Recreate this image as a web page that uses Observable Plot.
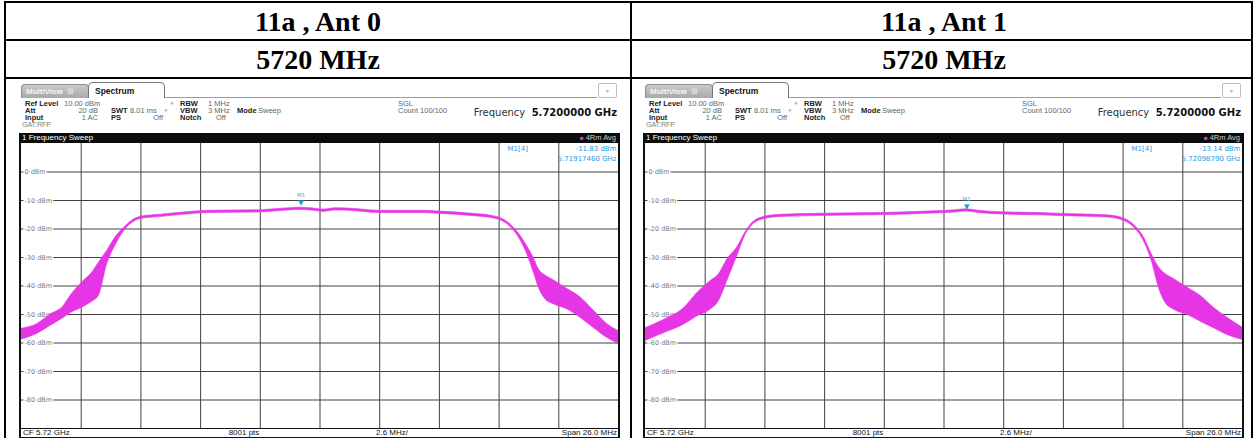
<!DOCTYPE html>
<html><head><meta charset="utf-8">
<script src="https://cdn.jsdelivr.net/npm/d3@7"></script>
<script src="https://cdn.jsdelivr.net/npm/@observablehq/plot@0.6"></script>
<style>
html,body{margin:0;padding:0;background:#fff;}
#page{position:relative;width:1259px;height:438px;overflow:hidden;background:#fff;}
.a{position:absolute;white-space:nowrap;line-height:1;font-family:"Liberation Sans",Arial,sans-serif;font-size:7.5px;color:#666;box-sizing:border-box;}
.a b{color:#222;font-weight:bold;}
.title{font-family:"Liberation Serif","Times New Roman",serif;font-weight:bold;font-size:28px;text-align:center;color:#000;}
.blk{background:#000;}
</style></head>
<body><div id="page"></div>
<script>
// ---------- data ----------
const panelTitles = ["11a , Ant 0", "11a , Ant 1"];
const channelTitles = ["5720 MHz", "5720 MHz"];
// frequency offset from centre 5.72 GHz (MHz), upper and lower envelope of trace (dBm)
const freqAnt0 = [-13.0,-12.32,-11.74,-11.16,-10.87,-10.36,-9.92,-9.63,-9.27,-8.91,-8.47,-8.11,-7.75,-6.95,-5.94,-4.86,-2.59,-1.72,-0.85,-0.28,0.15,0.67,1.2,2.63,4.38,5.25,6.55,7.57,7.93,8.3,8.66,9.02,9.31,9.53,9.82,10.18,10.76,11.35,11.92,12.5,13.0];
const hiAnt0   = [-55.0,-53.4,-50.0,-47.0,-43.5,-38.8,-35.3,-31.8,-27.7,-23.0,-19.1,-16.7,-15.6,-15.0,-14.2,-13.6,-13.4,-12.9,-12.5,-12.8,-13.2,-12.7,-12.8,-13.6,-13.6,-13.9,-14.6,-15.5,-16.4,-18.4,-21.6,-26.0,-30.2,-34.2,-36.3,-38.0,-41.0,-44.0,-48.6,-53.3,-55.8];
const loAnt0   = [-58.8,-56.8,-54.0,-51.2,-49.6,-47.6,-45.5,-43.5,-32.4,-25.9,-20.1,-17.5,-16.4,-15.8,-15.0,-14.4,-14.2,-13.7,-13.3,-13.6,-14.0,-13.5,-13.6,-14.4,-14.4,-14.7,-15.4,-16.3,-17.2,-19.3,-23.0,-28.8,-35.3,-40.6,-44.7,-46.4,-48.2,-51.2,-54.7,-58.2,-60.3];
const freqAnt1 = [-13.0,-12.2,-11.33,-10.75,-10.17,-9.81,-9.44,-9.0,-8.64,-8.28,-7.85,-7.12,-4.07,-1.9,-0.5,0.5,0.99,1.5,2.5,4.2,5.22,7.11,7.76,8.27,8.7,9.07,9.36,9.65,10.01,10.59,11.17,11.75,12.34,13.0];
const hiAnt1   = [-54.8,-51.9,-47.8,-42.5,-38.3,-36.0,-30.7,-26.4,-21.1,-17.4,-15.8,-15.0,-14.5,-14.2,-13.8,-13.4,-13.1,-13.6,-14.1,-14.4,-14.7,-15.2,-16.1,-18.5,-22.8,-29.2,-33.4,-35.8,-37.5,-40.5,-43.4,-47.6,-51.1,-54.6];
const loAnt1   = [-59.3,-56.6,-53.6,-50.7,-48.3,-45.4,-38.3,-29.5,-22.1,-18.2,-16.6,-15.8,-15.3,-15.0,-14.6,-14.2,-13.9,-14.4,-14.9,-15.2,-15.5,-16.0,-16.9,-19.4,-24.2,-31.9,-40.7,-46.0,-48.3,-50.1,-52.5,-54.8,-57.2,-58.9];
const markerFreq = [-0.8254, 0.9879];          // MHz offset of M1
const markerLevel = [-11.83, -13.14];          // dBm
const markerFreqText = ["5.71917460 GHz", "5.72098790 GHz"];
const levelTicks = [0, -10, -20, -30, -40, -50, -60, -70, -80];
const spanMHz = 26, divisions = 10;

// ---------- page frame ----------
const page = document.getElementById("page");
function div(cls, html, css) {
  const d = document.createElement("div");
  d.className = "a " + cls;
  d.innerHTML = html;
  let s = "";
  for (const k in css) s += k + ":" + (typeof css[k] === "number" ? css[k] + "px" : css[k]) + ";";
  d.style.cssText = s;
  page.appendChild(d);
  return d;
}
// table lines
div("blk", "", {left: 4, top: 1, width: 1249, height: 2});
div("blk", "", {left: 4, top: 1, width: 2, height: 440});
div("blk", "", {left: 630, top: 1, width: 2, height: 440});
div("blk", "", {left: 1251, top: 1, width: 2, height: 440});
div("blk", "", {left: 4, top: 39, width: 1249, height: 2});
div("blk", "", {left: 4, top: 77, width: 1249, height: 2});

const xGrid = d3.range(1, divisions).map(k => -spanMHz / 2 + k * spanMHz / divisions);

function panel(i, freq, hi, lo) {
  const dx = i * 624;
  const colL = i === 0 ? 6 : 632, colW = 624;
  div("title", panelTitles[i], {left: colL, top: 8, width: colW});
  div("title", channelTitles[i], {left: colL, top: 46, width: colW});

  // tabs
  div("", '<b style="color:#f4f4f4">MultiView</b>&nbsp; <span style="color:#eee">&#8862;</span>',
      {left: 21 + dx, top: 84, width: 68, height: 14, "font-size": "8px", background: "linear-gradient(#c9c9c9,#a9a9a9)", border: "1px solid #8f8f8f", "border-bottom": "none", "border-radius": "4px 4px 0 0", "padding-left": "4px", "padding-top": "3px"});
  div("", '<b style="color:#111">Spectrum</b>',
      {left: 88 + dx, top: 82, width: 77, height: 16, "font-size": "8.5px", background: "#fff", border: "1px solid #777", "border-bottom": "none", "border-radius": "5px 5px 0 0", "padding-left": "6px", "padding-top": "4px", "z-index": 2});
  div("", "", {left: 165 + dx, top: 97, width: 432, height: 1, background: "#999"});
  div("", "&#9660;",
      {left: 598 + dx, top: 83, width: 19, height: 15, "font-size": "5px", color: "#aaa", border: "1px solid #bdbdbd", "border-radius": "2px", "text-align": "center", "padding-top": "5px"});

  // setup info
  const r1 = 100, r2 = 107, r3 = 114, r4 = 121;
  div("", "<b>Ref Level</b>", {left: 25 + dx, top: r1});
  div("", "10.00 dBm", {left: 64 + dx, top: r1});
  div("", '<span style="color:#b5b5b5">&#9679;</span>', {left: 170 + dx, top: r1, "font-size": "6px"});
  div("", "<b>RBW</b>", {left: 180 + dx, top: r1});
  div("", "1 MHz", {left: 208 + dx, top: r1});
  div("", "SGL", {left: 398 + dx, top: r1});
  div("", "<b>Att</b>", {left: 25 + dx, top: r2});
  div("", "20 dB", {left: 58 + dx, top: r2, width: 40, "text-align": "right"});
  div("", "<b>SWT</b>", {left: 111 + dx, top: r2});
  div("", "8.01 ms", {left: 130 + dx, top: r2});
  div("", '<span style="color:#b5b5b5">&#9679;</span>', {left: 164 + dx, top: r2, "font-size": "6px"});
  div("", "<b>VBW</b>", {left: 180 + dx, top: r2});
  div("", "3 MHz", {left: 208 + dx, top: r2});
  div("", "<b>Mode</b>", {left: 237 + dx, top: r2});
  div("", "Sweep", {left: 258 + dx, top: r2});
  div("", "Count 100/100", {left: 398 + dx, top: r2});
  div("", "<b>Input</b>", {left: 25 + dx, top: r3});
  div("", "1 AC", {left: 58 + dx, top: r3, width: 40, "text-align": "right"});
  div("", "<b>PS</b>", {left: 111 + dx, top: r3});
  div("", "Off", {left: 133 + dx, top: r3, width: 30, "text-align": "right"});
  div("", "<b>Notch</b>", {left: 180 + dx, top: r3});
  div("", "Off", {left: 216 + dx, top: r3});
  div("", "GAT:RFP", {left: 22 + dx, top: r4, color: "#7a7a7a", "font-size": "7px"});
  div("", '<span style="color:#333">Frequency</span>&nbsp; <b style="color:#111">5.7200000 GHz</b>',
      {left: 420 + dx, top: 108, width: 197, "text-align": "right", "font-size": "10px", "font-family": "DejaVu Sans,sans-serif"});

  // frame + sweep bar
  div("", "", {left: 19 + dx, top: 133, width: 601, height: 306, border: "2px solid #111"});
  div("", "1 Frequency Sweep",
      {left: 19 + dx, top: 133, width: 601, height: 10, background: "#0c0c0c", color: "#fff", "font-size": "8px", "line-height": "10px", "padding-left": "3px", "z-index": 3});
  div("", '<span style="color:#e535e5;font-size:6px">&#9632;</span> 4Rm Avg',
      {left: 530 + dx, top: 133, width: 86, height: 10, "line-height": "10px", "text-align": "right", color: "#cfcfcf", "font-size": "7.5px", "z-index": 4});

  // bottom bar
  const bb = {top: 428, height: 9, "line-height": "9px", "font-size": "8px", color: "#111"};
  div("", "CF 5.72 GHz", {...bb, left: 23 + dx});
  div("", "8001 pts", {...bb, left: 204 + dx, width: 80, "text-align": "center"});
  div("", "2.6 MHz/", {...bb, left: 376 + dx});
  div("", "Span 26.0 MHz", {...bb, left: 517 + dx, width: 100, "text-align": "right"});

  // trace plot
  const rows = freq.map((f, k) => ({f, hi: hi[k], lo: lo[k]}));
  const mk = [{f: markerFreq[i], v: markerLevel[i]}];
  const trace = "#e535e5", blue = "#1e9be0";
  const chart = Plot.plot({
    width: 597, height: 286,
    marginTop: 0, marginBottom: 1, marginLeft: 0, marginRight: 0,
    x: {domain: [-spanMHz / 2, spanMHz / 2], axis: null},
    y: {domain: [-90, 10], axis: null},
    style: {fontFamily: "DejaVu Sans, sans-serif", background: "transparent", overflow: "hidden"},
    marks: [
      Plot.ruleY(levelTicks, {stroke: "#404040", strokeWidth: 1}),
      Plot.ruleX(xGrid, {stroke: "#404040", strokeWidth: 1}),
      Plot.ruleY([-90], {stroke: "#111", strokeWidth: 1}),
      Plot.text(levelTicks, {x: () => -spanMHz / 2, y: d => d, text: d => `${d} dBm`, textAnchor: "start", dx: 3,
        fontSize: 6.5, fill: "#7a7a7a", stroke: "white", strokeWidth: 3}),
      Plot.areaY(rows, {x: "f", y1: "lo", y2: "hi", fill: trace, stroke: trace, strokeWidth: 0.6, curve: "monotone-x"}),
      Plot.text(mk, {x: "f", y: "v", text: () => "\u25BC", fill: blue, fontSize: 7, dy: -3}),
      Plot.text(mk, {x: "f", y: "v", text: () => "M1", fill: "#4aa8e0", fontSize: 5.5, dy: -10}),
      Plot.text(["M1[4]"], {frameAnchor: "top-left", text: d => d, dx: 486, dy: 3, fontSize: 7, fill: blue, textAnchor: "start"}),
      Plot.text([markerLevel[i].toFixed(2) + " dBm"], {frameAnchor: "top-right", text: d => d, dx: -2, dy: 3, fontSize: 7, fill: blue, textAnchor: "end"}),
      Plot.text([markerFreqText[i]], {frameAnchor: "top-right", text: d => d, dx: -2, dy: 13, fontSize: 7, fill: blue, textAnchor: "end"})
    ]
  });
  const holder = div("", "", {left: 21 + dx, top: 143, width: 597, height: 286});
  holder.appendChild(chart);
}

panel(0, freqAnt0, hiAnt0, loAnt0);
panel(1, freqAnt1, hiAnt1, loAnt1);
</script>
</body></html>
